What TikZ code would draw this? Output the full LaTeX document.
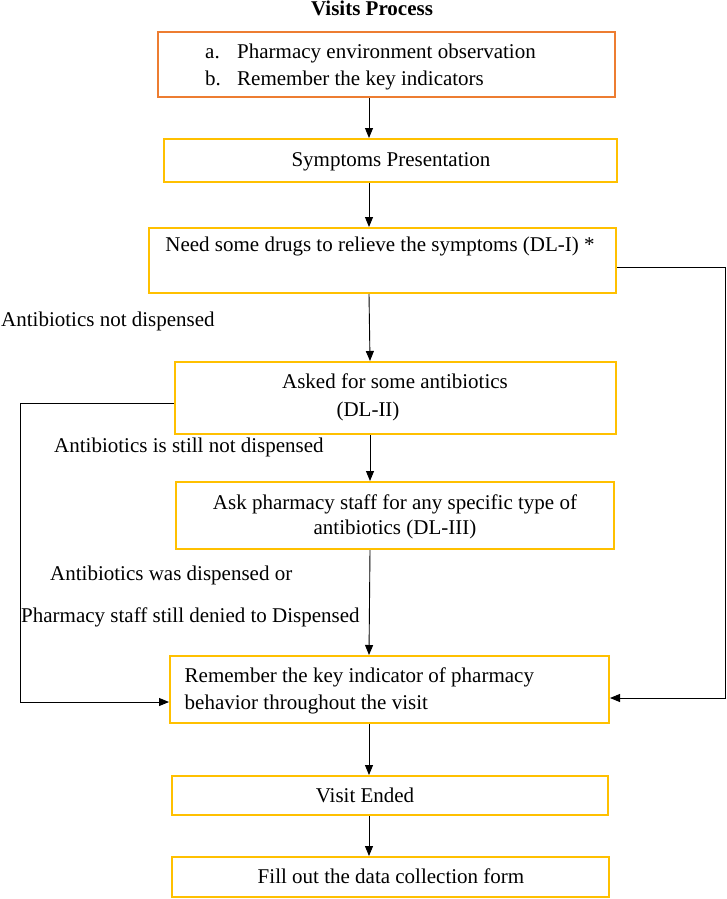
\documentclass[tikz,border=0pt]{standalone}
\usepackage{fontspec}
\setmainfont{Liberation Serif}
\usetikzlibrary{arrows.meta}
\definecolor{boxorange}{HTML}{ED7D31}
\definecolor{boxyellow}{HTML}{FFC000}
\tikzset{
  base/.style={font=\fontsize{21}{25}\selectfont, inner sep=0pt},
  box/.style={draw=boxyellow, line width=2pt, inner sep=0pt, rectangle},
  obox/.style={box, draw=boxorange},
  lbl/.style={base, anchor=base west},
  ctr/.style={base, anchor=base},
  conn/.style={line width=0.9pt, -{Triangle[length=10pt,width=8pt]}}
}
\begin{document}
\begin{tikzpicture}[x=1pt,y=1pt]
\useasboundingbox (0,0) rectangle (727,-899);
% title
\node[ctr, font=\fontsize{21}{25}\selectfont\bfseries] (title) at (372,-16) {Visits Process};
% boxes
\node[obox, minimum width=457pt, minimum height=65pt] (b1) at (386.5,-64.5) {};
\node[box, minimum width=453pt, minimum height=43pt] (b2) at (390.5,-160.5) {};
\node[box, minimum width=467pt, minimum height=65pt] (b3) at (382.5,-260.5) {};
\node[box, minimum width=441pt, minimum height=72pt] (b4) at (395.5,-398) {};
\node[box, minimum width=438pt, minimum height=67pt] (b5) at (395,-515.5) {};
\node[box, minimum width=439pt, minimum height=67pt] (b6) at (389.5,-689.5) {};
\node[box, minimum width=436pt, minimum height=39pt] (b7) at (390,-795.5) {};
\node[box, minimum width=437pt, minimum height=40pt] (b8) at (390.5,-877) {};
% box texts
\node[lbl] (t1a) at (205,-59) {a.};
\node[lbl] (t1b) at (237,-59) {Pharmacy environment observation};
\node[lbl] (t2a) at (205,-85) {b.};
\node[lbl] (t2b) at (237,-85) {Remember the key indicators};
\node[ctr] (t2) at (391,-166) {Symptoms Presentation};
\node[ctr] (t3) at (380,-251) {Need some drugs to relieve the symptoms (DL-I) *};
\node[ctr] (t4a) at (395,-388) {Asked for some antibiotics};
\node[ctr] (t4b) at (368,-416) {(DL-II)};
\node[ctr] (t5a) at (395,-509) {Ask pharmacy staff for any specific type of};
\node[ctr] (t5b) at (395,-534) {antibiotics (DL-III)};
\node[lbl] (t6a) at (184.5,-682) {Remember the key indicator of pharmacy};
\node[lbl] (t6b) at (184.5,-709) {behavior throughout the visit};
\node[ctr] (t7) at (365,-802) {Visit Ended};
\node[ctr] (t8) at (391,-883) {Fill out the data collection form};
% side labels
\node[lbl] (l1) at (1,-326) {Antibiotics not dispensed};
\node[lbl] (l2) at (54,-452) {Antibiotics is still not dispensed};
\node[lbl] (l3) at (50,-580) {Antibiotics was dispensed or};
\node[lbl] (l4) at (21,-622) {Pharmacy staff still denied to Dispensed};
% vertical arrows
\draw[conn] (b1.south -| 369,0) -- (b2.north -| 369,0);
\draw[conn] (b2.south -| 369,0) -- (b3.north -| 369,0);
\draw[conn] (b3.south -| 369,0) -- (b4.north -| 370,0);
\draw[conn] (b4.south -| 370,0) -- (b5.north -| 370,0);
\draw[conn] (b5.south -| 370,0) -- (b6.north -| 369,0);
\draw[conn] (b6.south -| 369,0) -- (b7.north -| 369,0);
\draw[conn] (b7.south -| 369,0) -- (b8.north -| 369,0);
% side connectors
\coordinate (rtop) at (725,-267);
\coordinate (rbot) at (725,-698);
\draw[conn] (b3.east |- rtop) -- (rtop) -- (rbot) -- (b6.east |- rbot);
\coordinate (ltop) at (20,-403);
\coordinate (lbot) at (20,-702);
\draw[conn] (b4.west |- ltop) -- (ltop) -- (lbot) -- (b6.west |- lbot);
\end{tikzpicture}
\end{document}
